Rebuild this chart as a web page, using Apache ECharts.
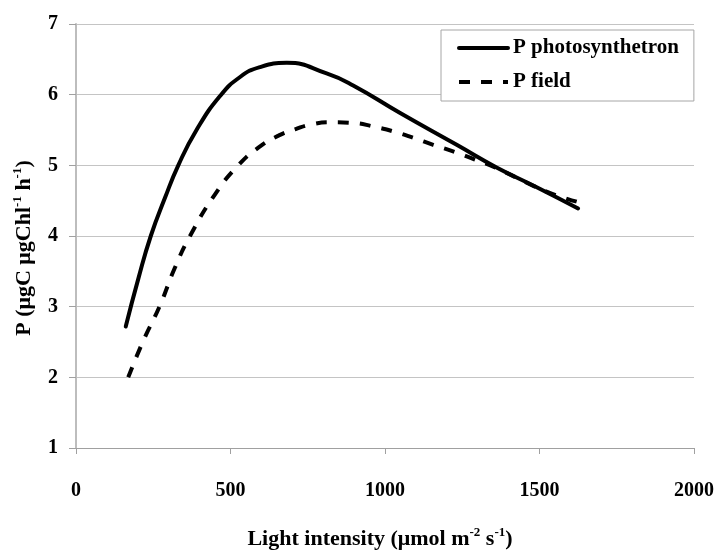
<!DOCTYPE html>
<html>
<head>
<meta charset="utf-8">
<script src="https://cdn.jsdelivr.net/npm/echarts@6/dist/echarts.min.js"></script>
<style>
  html, body { margin: 0; padding: 0; background: #fff; }
  #chart { width: 718px; height: 557px; }
</style>
</head>
<body>
<div id="chart"></div>
<script>
// values
const lightPhoto = [161, 202, 242, 288, 331, 390, 466, 531, 595, 682, 811, 897, 1049, 1232, 1361, 1491, 1625];
const pPhoto = [2.72, 3.40, 4.00, 4.54, 5.00, 5.50, 5.98, 6.25, 6.39, 6.45, 6.30, 6.13, 5.74, 5.29, 4.97, 4.69, 4.39];
const lightField = [169, 218, 270, 320, 369, 450, 525, 590, 655, 709, 763, 827, 897, 962, 1027, 1092, 1156, 1232, 1291, 1356, 1480, 1539, 1625];
const pField = [2.00, 2.52, 3.00, 3.55, 4.00, 4.59, 5.00, 5.25, 5.42, 5.51, 5.58, 5.61, 5.60, 5.55, 5.48, 5.39, 5.29, 5.18, 5.08, 4.97, 4.71, 4.60, 4.48];
const seriesNames = ['P photosynthetron', 'P field'];

const serif = '"Liberation Serif", "DejaVu Serif", serif';

function pairs(xs, ys) {
  return xs.map((x, i) => [x, ys[i]]);
}

function nameStyle(pad) {
  return {
    fontFamily: serif, fontWeight: 'bold', fontSize: 22, lineHeight: 26, color: '#000',
    padding: pad,
    rich: {
      t: { fontFamily: serif, fontWeight: 'bold', fontSize: 22, lineHeight: 26, color: '#000' },
      sup: { fontFamily: serif, fontWeight: 'bold', fontSize: 13, lineHeight: 13, verticalAlign: 'top', color: '#000' }
    }
  };
}

const chart = echarts.init(document.getElementById('chart'));

chart.setOption({
  animation: false,
  backgroundColor: '#fff',
  grid: { left: 76, right: 24, top: 24, bottom: 105 },
  legend: {
    orient: 'vertical',
    left: 441,
    top: 30,
    data: seriesNames,
    backgroundColor: '#fff',
    borderColor: '#a6a6a6',
    borderWidth: 1,
    padding: [6, 15, 7, 16],
    itemGap: 10,
    itemWidth: 49,
    itemHeight: 14,
    itemStyle: { opacity: 0 },
    lineStyle: { width: 4 },
    textStyle: { fontFamily: serif, fontWeight: 'bold', fontSize: 21, lineHeight: 24, color: '#000' }
  },
  xAxis: {
    type: 'value',
    min: 0, max: 2000, interval: 500,
    name: '{t|Light intensity (μmol m}{sup|-2}{t| s}{sup|-1}{t|)}',
    nameLocation: 'middle',
    nameGap: 78,
    nameTextStyle: nameStyle([0, 10, 0, 0]),
    axisLine: { show: true, lineStyle: { color: '#a0a0a0', width: 1 } },
    axisTick: { show: true, inside: false, length: 6, lineStyle: { color: '#a0a0a0' } },
    axisLabel: {
      margin: 33, fontFamily: serif, fontWeight: 'bold', fontSize: 20, color: '#000',
      formatter: v => String(v)
    },
    splitLine: { show: false }
  },
  yAxis: {
    type: 'value',
    min: 1, max: 7, interval: 1,
    name: '{t|P (μgC μgChl}{sup|-1}{t| h}{sup|-1}{t|)}',
    nameLocation: 'middle',
    nameGap: 34,
    nameRotate: 90,
    nameTextStyle: nameStyle([0, 24, 0, 0]),
    axisLine: { show: true, lineStyle: { color: '#bdbdbd', width: 2 } },
    axisTick: { show: true, inside: false, length: 7, lineStyle: { color: '#a0a0a0' } },
    axisLabel: { margin: 18, fontFamily: serif, fontWeight: 'bold', fontSize: 20, color: '#000' },
    splitLine: { show: true, lineStyle: { color: '#c4c4c4', width: 1 } }
  },
  series: [
    {
      name: seriesNames[0],
      type: 'line',
      data: pairs(lightPhoto, pPhoto),
      smooth: 0.5,
      showSymbol: false,
      symbol: 'none',
      lineStyle: { color: '#000', width: 4, type: 'solid', cap: 'round' },
      itemStyle: { color: '#000' }
    },
    {
      name: seriesNames[1],
      type: 'line',
      data: pairs(lightField, pField),
      smooth: 0.5,
      showSymbol: false,
      symbol: 'none',
      lineStyle: { color: '#000', width: 4, type: [11, 11], cap: 'butt' },
      itemStyle: { color: '#000' }
    }
  ]
});
</script>
</body>
</html>
